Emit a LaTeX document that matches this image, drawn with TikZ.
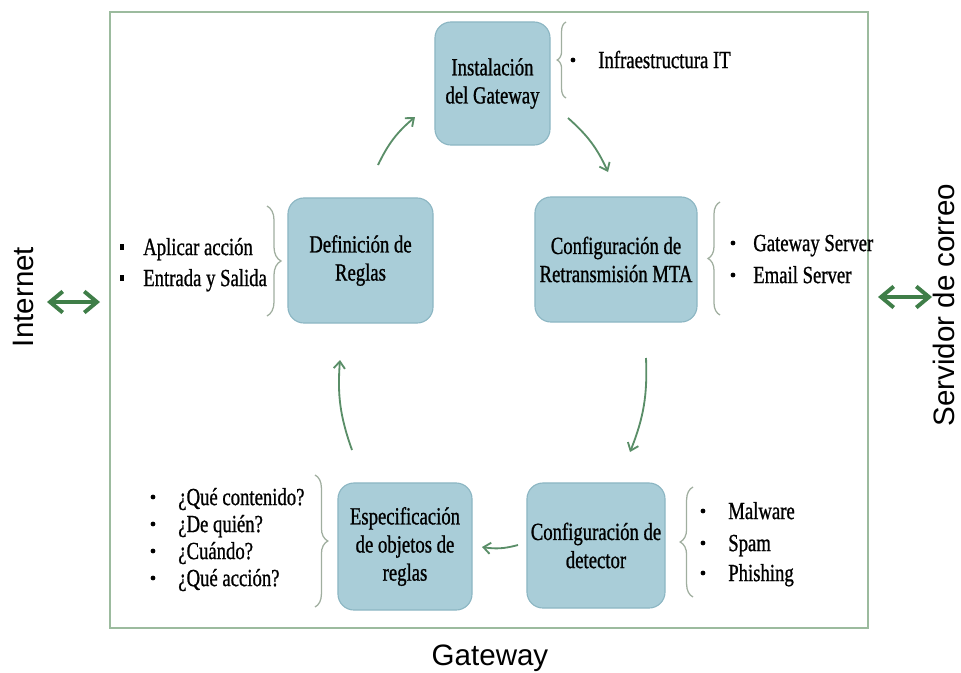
\documentclass[tikz,border=0pt]{standalone}
\usepackage{fontspec}
\setmainfont{Liberation Serif}[FakeStretch=0.76,FakeBold=0.9]
\newfontfamily\labelfont{Liberation Sans}
\usetikzlibrary{arrows.meta,decorations.pathreplacing}
\definecolor{boxfill}{HTML}{A9CDD8}
\definecolor{boxedge}{HTML}{8CB6C3}
\definecolor{framegreen}{HTML}{9CBB9E}
\definecolor{cyclegreen}{HTML}{5A8E68}
\definecolor{linkgreen}{HTML}{3F7E48}
\definecolor{bracegrey}{HTML}{A0AE9F}

\begin{document}
\begin{tikzpicture}[x=0.025cm,y=-0.025cm,
  stepbox/.style={draw=boxedge, line width=0.8pt, fill=boxfill, rounded corners=0.4cm,
    align=center, inner sep=0pt, font=\fontsize{17.5}{20}\selectfont},
  cyc/.style={draw=cyclegreen, line width=1.3pt, -{Straight Barb[length=5pt,width=8pt]}, bend left=12},
  link/.style={draw=linkgreen, line width=2.8pt,
    {Straight Barb[length=9pt,width=15pt]}-{Straight Barb[length=9pt,width=15pt]}},
  bracket/.style={draw=bracegrey, line width=0.9pt, decorate, decoration={brace, amplitude=#1}},
  item/.style={anchor=west, inner sep=0pt, text height=11.5pt, text depth=0pt,
    font=\fontsize{17.5}{20}\selectfont},
  dot/.style={circle, fill=black, inner sep=0pt, minimum size=0.12cm},
  sqdot/.style={rectangle, fill=black, inner sep=0pt, minimum width=0.1cm, minimum height=0.15cm},
  side/.style={font=\labelfont\fontsize{21}{24}\selectfont, inner sep=0pt},
]
\useasboundingbox (0,0) rectangle (961,672);

% outer gateway frame
\draw[framegreen, line width=1.5pt] (110,12) rectangle (868,628);

% process steps
\node[stepbox, minimum width=2.875cm, minimum height=3.075cm] (inst) at (492.5,83.5) {Instalación\\del Gateway};
\node[stepbox, minimum width=4.05cm,  minimum height=3.125cm] (mta)  at (616,259.5)  {Configuración de\\Retransmisión MTA};
\node[stepbox, minimum width=3.45cm,  minimum height=3.125cm] (det)  at (596,545.5)  {Configuración de\\detector};
\node[stepbox, minimum width=3.35cm,  minimum height=3.175cm] (esp)  at (405,546.5)  {Especificación\\de objetos de\\reglas};
\node[stepbox, minimum width=3.625cm, minimum height=3.125cm] (defn) at (360.5,260.5) {Definición de\\Reglas};

% cycle arrows
\coordinate (a1s) at (378,165); \coordinate (a1e) at (415,117);
\coordinate (a2s) at (568,118); \coordinate (a2e) at (608,172);
\coordinate (a3s) at (646,358); \coordinate (a3e) at (630,452);
\coordinate (a4s) at (518,545); \coordinate (a4e) at (482,547);
\coordinate (a5s) at (352,450); \coordinate (a5e) at (340,360);
\draw[cyc] (a1s) to (a1e);
\draw[cyc] (a2s) to (a2e);
\draw[cyc] (a3s) to (a3e);
\draw[cyc] (a4s) to (a4e);
\draw[cyc] (a5s) to (a5e);

% braces
\coordinate (b1a) at (566,98);  \coordinate (b1b) at (566,22);
\coordinate (b2a) at (267,206); \coordinate (b2b) at (267,316);
\coordinate (b3a) at (720,315); \coordinate (b3b) at (720,202);
\coordinate (b4a) at (315,475); \coordinate (b4b) at (315,607);
\coordinate (b5a) at (693,597); \coordinate (b5b) at (693,487);
\draw[bracket=0.22cm] (b1a) -- (b1b);
\draw[bracket=0.35cm] (b2a) -- (b2b);
\draw[bracket=0.3cm]  (b3a) -- (b3b);
\draw[bracket=0.32cm] (b4a) -- (b4b);
\draw[bracket=0.32cm] (b5a) -- (b5b);

% detail lists
\node[dot] (d1a) at (573,60) {};
\node[item] (t1a) at (598,60) {Infraestructura IT};

\node[sqdot] (d2a) at (122,247) {};
\node[item] (t2a) at (143,247) {Aplicar acción};
\node[sqdot] (d2b) at (122,278) {};
\node[item] (t2b) at (143,278) {Entrada y Salida};

\node[dot] (d3a) at (733,243) {};
\node[item] (t3a) at (753,243) {Gateway Server};
\node[dot] (d3b) at (733,275) {};
\node[item] (t3b) at (753,275) {Email Server};

\node[dot] (d4a) at (153,497) {};
\node[item] (t4a) at (178,497) {¿Qué contenido?};
\node[dot] (d4b) at (153,524) {};
\node[item] (t4b) at (178,524) {¿De quién?};
\node[dot] (d4c) at (153,551) {};
\node[item] (t4c) at (178,551) {¿Cuándo?};
\node[dot] (d4d) at (153,578) {};
\node[item] (t4d) at (178,578) {¿Qué acción?};

\node[dot] (d5a) at (703,511) {};
\node[item] (t5a) at (728,511) {Malware};
\node[dot] (d5b) at (703,543) {};
\node[item] (t5b) at (728,543) {Spam};
\node[dot] (d5c) at (703,573) {};
\node[item] (t5c) at (728,573) {Phishing};

% outside endpoints
\node[side, rotate=90] (inet) at (23,297) {Internet};
\node[side, rotate=90] (mail) at (944,305) {Servidor de correo};
\node[side, anchor=base] (gw) at (490,665) {Gateway};

\coordinate (l1a) at (47,302);  \coordinate (l1b) at (100,302);
\coordinate (l2a) at (878,297); \coordinate (l2b) at (932,297);
\draw[link] (l1a) -- (l1b);
\draw[link] (l2a) -- (l2b);
\end{tikzpicture}
\end{document}
